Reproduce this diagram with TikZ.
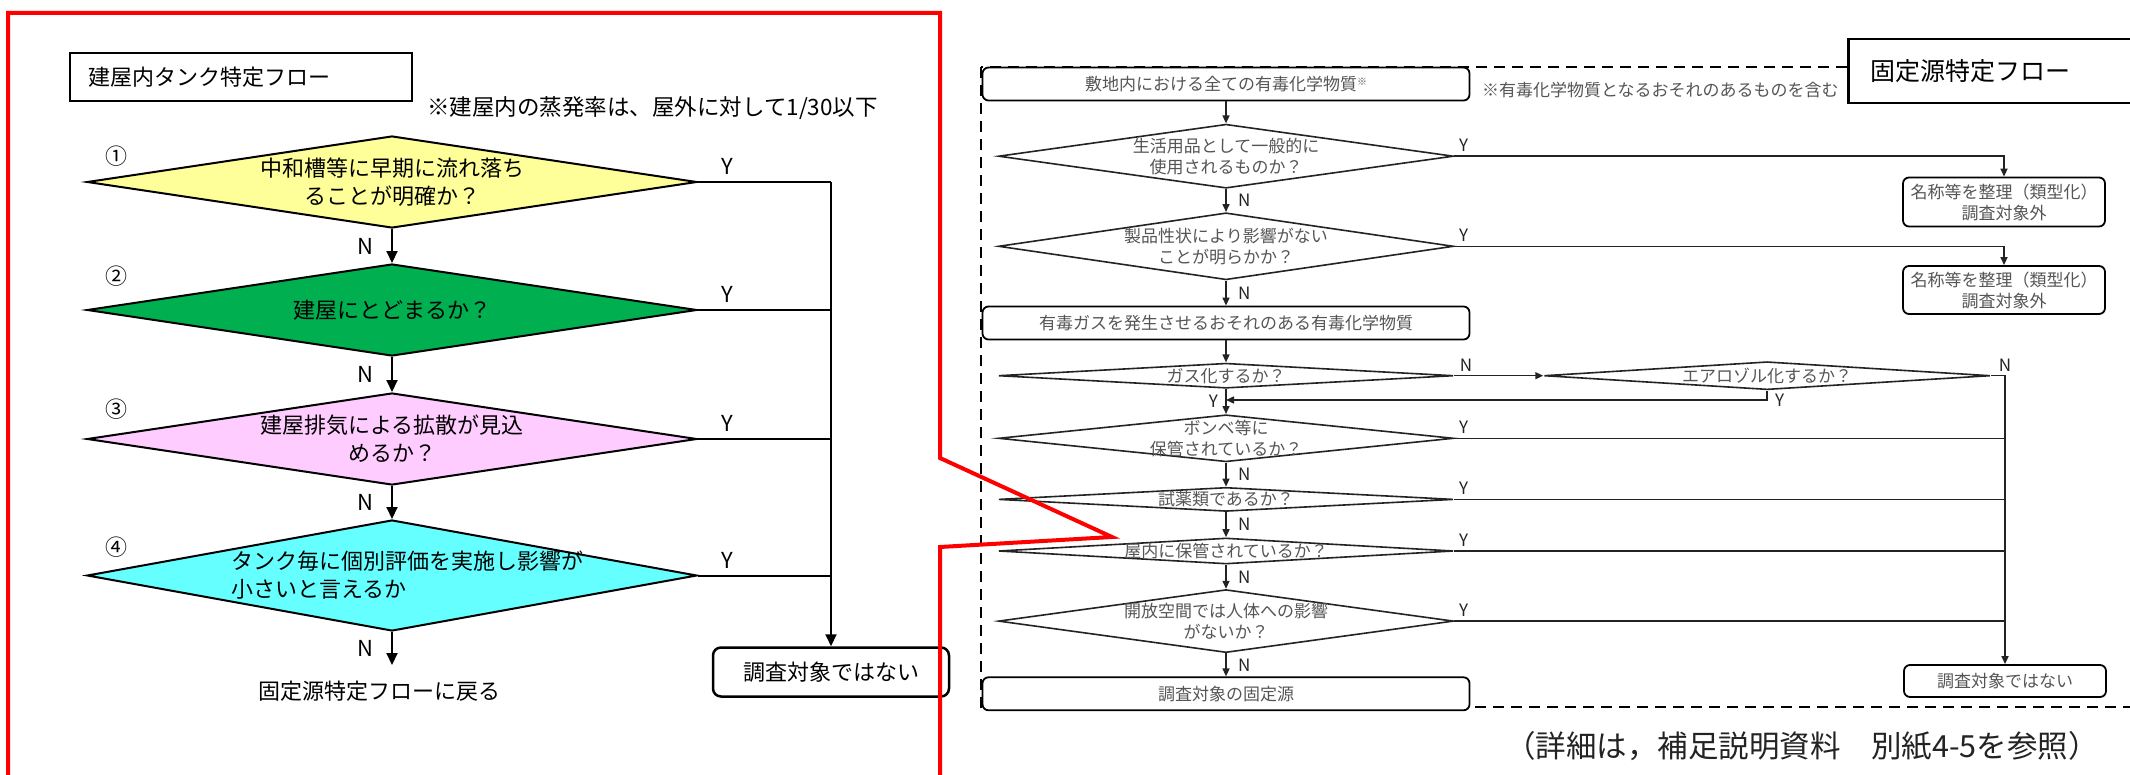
\documentclass[tikz,border=0pt]{standalone}
\usepackage{fontspec}
\setmainfont{Noto Sans CJK JP}
\usetikzlibrary{arrows.meta, positioning, shapes.geometric}

\definecolor{qyellow}{RGB}{255,255,153}
\definecolor{qgreen}{RGB}{0,176,80}
\definecolor{qpink}{RGB}{255,204,255}
\definecolor{qcyan}{RGB}{102,255,255}
\definecolor{flowgray}{RGB}{85,85,85}
\definecolor{linegray}{RGB}{35,35,35}

\begin{document}
\begin{tikzpicture}[
  x=1pt, y=-1pt,
  every node/.style={font=\fontsize{22pt}{28pt}\selectfont},
  small/.style={font=\fontsize{17pt}{21pt}\selectfont, text=flowgray},
  rlab/.style={font=\fontsize{17pt}{17pt}\selectfont, text=linegray},
  dec/.style={diamond, draw, line width=2pt, inner sep=-200pt, minimum width=610pt, minimum height=92pt, align=center},
  rdec/.style={diamond, draw=linegray, line width=1.6pt, inner sep=-200pt, minimum width=455pt, align=center, fill=white, small},
  rbox/.style={rectangle, rounded corners=6pt, draw, line width=1.8pt, minimum width=487pt, minimum height=33pt, align=center, fill=white, small},
  sbox/.style={rectangle, rounded corners=6pt, draw, line width=1.8pt, minimum width=202pt, align=center, fill=white, small},
  lbox/.style={rectangle, rounded corners=8pt, draw, line width=2.5pt, minimum width=236pt, minimum height=49pt},
  title/.style={rectangle, draw, line width=2pt, align=left, fill=white},
  note/.style={anchor=west, inner sep=0pt},
  num/.style={inner sep=0pt},
  larr/.style={-{Triangle[length=12pt, width=11pt]}, line width=2pt},
  lline/.style={line width=2pt},
  rarr/.style={-{Triangle[length=8pt, width=7pt]}, line width=1.5pt, draw=linegray},
  rline/.style={line width=1.5pt, draw=linegray},
  callout/.style={draw=red, line width=4pt, line join=miter}
]
\useasboundingbox (0,0) rectangle (2130,775);

% left: tank flow
\node[title, anchor=north west, minimum height=48pt, text width=306pt, inner xsep=18pt] (ttl1) at (69,52) {建屋内タンク特定フロー};
\node[note, font=\fontsize{22.5pt}{28pt}\selectfont] (rate) at (427,108) {※建屋内の蒸発率は、屋外に対して1/30以下};

\node[dec, fill=qyellow] (q1) at (392,182) {中和槽等に早期に流れ落ち\\ることが明確か？};
\node[dec, fill=qgreen, below=34pt of q1] (q2) {建屋にとどまるか？};
\node[dec, fill=qpink, below=35pt of q2] (q3) {建屋排気による拡散が見込\\めるか？};
\node[dec, fill=qcyan, below=33pt of q3, minimum height=111pt, align=left] (q4) {\hspace*{30pt}タンク毎に個別評価を実施し影響が\\\hspace*{30pt}小さいと言えるか};
\node[below=33pt of q4, xshift=-13pt, inner ysep=16pt] (ret) {固定源特定フローに戻る};
\node[lbox] (no1) at (831,672) {調査対象ではない};

\node[num] (n1) at ([shift={(30,-26)}]q1.west) {①};
\node[num] (n2) at ([shift={(30,-34)}]q2.west) {②};
\node[num] (n3) at ([shift={(30,-30)}]q3.west) {③};
\node[num] (n4) at ([shift={(30,-28)}]q4.west) {④};

\draw[larr] (q1) -- node[left=14pt] {N} (q2);
\draw[larr] (q2) -- node[left=14pt] {N} (q3);
\draw[larr] (q3) -- node[left=14pt] {N} (q4);
\draw[larr] (q4) -- node[left=14pt] {N} (q4 |- ret.north);
\draw[lline] (q1.east) -- node[pos=0.22, above=3pt] {Y} (q1.east -| no1);
\draw[lline] (q2.east) -- node[pos=0.22, above=3pt] {Y} (q2.east -| no1);
\draw[lline] (q3.east) -- node[pos=0.22, above=3pt] {Y} (q3.east -| no1);
\draw[lline] (q4.east) -- node[pos=0.22, above=3pt] {Y} (q4.east -| no1);
\draw[larr] (q1.east -| no1) -- (no1);

% right: fixed source flow
\draw[line width=2pt, dash pattern=on 11pt off 7pt] (981,67) rectangle (2160,707);
\node[title, anchor=north west, minimum height=64pt, text width=300pt, inner xsep=22pt, line width=2.5pt, font=\fontsize{25pt}{30pt}\selectfont] (ttl2) at (1847,38) {固定源特定フロー};

\node[rbox] (all) at (1226,84) {敷地内における全ての有毒化学物質\raisebox{5pt}{\fontsize{10pt}{10pt}\selectfont ※}};
\node[note, small] (incl) at (1482,90) {※有毒化学物質となるおそれのあるものを含む};
\node[rdec, minimum height=64pt, below=22pt of all] (qa) {生活用品として一般的に\\使用されるものか？};
\node[rdec, minimum height=67pt, below=23pt of qa] (qb) {製品性状により影響がない\\ことが明らかか？};
\node[rbox, below=25pt of qb] (gas) {有毒ガスを発生させるおそれのある有毒化学物質};
\node[rdec, minimum height=25pt, below=22pt of gas] (qc) {ガス化するか？};
\node[rdec, minimum height=28pt, minimum width=446pt, right=89pt of qc] (qd) {エアロゾル化するか？};
\node[rdec, minimum height=47pt, below=25pt of qc] (qe) {ボンベ等に\\保管されているか？};
\node[rdec, minimum height=24pt, below=24pt of qe] (qf) {試薬類であるか？};
\node[rdec, minimum height=26pt, below=25pt of qf] (qg) {屋内に保管されているか？};
\node[rdec, minimum height=63pt, below=24pt of qg] (qh) {開放空間では人体への影響\\がないか？};
\node[rbox, below=23pt of qh] (src) {調査対象の固定源};

\node[sbox, minimum height=49pt] (sort1) at (2004,202) {名称等を整理（類型化）\\調査対象外};
\node[sbox, minimum height=48pt] (sort2) at (2004,290) {名称等を整理（類型化）\\調査対象外};
\node[sbox, minimum height=32pt] (no2) at (2005,681) {調査対象ではない};

\draw[rarr] (all) -- (qa);
\draw[rarr] (qa) -- node[rlab, right=8pt] {N} (qb);
\draw[rarr] (qb) -- node[rlab, right=8pt] {N} (gas);
\draw[rarr] (gas) -- (qc);
\draw[rarr] (qc) -- node[rlab, left=4pt] {Y} (qe);
\draw[rarr] (qe) -- node[rlab, right=8pt] {N} (qf);
\draw[rarr] (qf) -- node[rlab, right=8pt] {N} (qg);
\draw[rarr] (qg) -- node[rlab, right=8pt] {N} (qh);
\draw[rarr] (qh) -- node[rlab, right=8pt] {N} (src);

\draw[rarr] (qa.east) -| node[rlab, pos=0, above right=1pt] {Y} (sort1);
\draw[rarr] (qb.east) -| node[rlab, pos=0, above right=1pt] {Y} (sort2);
\draw[rarr] (qc) -- node[rlab, pos=0.13, above] {N} (qd);
\draw[rarr] (qd.south) |- node[rlab, pos=0.5, right=4pt] {Y} ([yshift=-11pt]qc.south);
\draw[rarr] (qd.east) -| node[rlab, pos=0.5, above] {N} (no2);
\draw[rline] (qe.east) -- node[rlab, pos=0, above right=1pt] {Y} (qe.east -| no2);
\draw[rline] (qf.east) -- node[rlab, pos=0, above right=1pt] {Y} (qf.east -| no2);
\draw[rline] (qg.east) -- node[rlab, pos=0, above right=1pt] {Y} (qg.east -| no2);
\draw[rline] (qh.east) -- node[rlab, pos=0, above right=1pt] {Y} (qh.east -| no2);

\node[note, font=\fontsize{30.5pt}{31pt}\selectfont, text=linegray] (detail) at (1505,746) {（詳細は，補足説明資料　別紙4-5を参照）};

\draw[callout] (8,790) -- (8,13) -- (940,13) -- (940,458) -- (1112,537) -- (940,547) -- (940,790);
\end{tikzpicture}
\end{document}
